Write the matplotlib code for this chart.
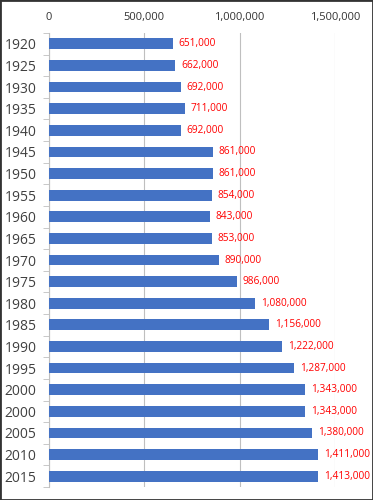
import matplotlib
matplotlib.use("Agg")
import matplotlib.pyplot as plt
from matplotlib.ticker import FuncFormatter
import numpy as np

years = ["1920", "1925", "1930", "1935", "1940", "1945", "1950", "1955", "1960", "1965",
         "1970", "1975", "1980", "1985", "1990", "1995", "2000", "2000", "2005", "2010", "2015"]
values = [651000, 662000, 692000, 711000, 692000, 861000, 861000, 854000, 843000, 853000,
          890000, 986000, 1080000, 1156000, 1222000, 1287000, 1343000, 1343000, 1380000, 1411000, 1413000]
xticks = [0, 500000, 1000000, 1500000]

plt.rcParams['font.family'] = ['Open Sans', 'DejaVu Sans']

fig = plt.figure(figsize=(3.73, 5.0), dpi=100)
ax = fig.add_axes([49/373, 1-487/500, (335-49)/373, (487-33)/500])

y = np.arange(len(years))
ax.barh(y, values, height=0.5, color="#4472C4", zorder=3)
for yi, v in zip(y, values):
    ax.text(v + 30000, yi, f"{v:,}", color="#FF0000", fontsize=7.3, va="center", ha="left", zorder=4)

ax.set_xlim(0, 1500000)
ax.set_ylim(len(years) - 0.5, -0.5)
ax.set_xticks(xticks)
ax.xaxis.set_major_formatter(FuncFormatter(lambda v, p: f"{int(v):,}"))
ax.xaxis.tick_top()
ax.tick_params(axis='x', length=0, labelsize=8, pad=7, colors="#333333")
ax.set_yticks(y)
ax.set_yticklabels(years)
ax.tick_params(axis='y', which='major', length=0, labelsize=10, pad=9, colors="#404040")
ax.set_yticks(np.arange(-0.5, len(years), 1), minor=True)
ax.tick_params(axis='y', which='minor', length=4, color="#BFBFBF", direction='out')
ax.grid(axis='x', color="#BFBFBF", linewidth=0.8, zorder=0)
for s in ['top', 'right', 'bottom']:
    ax.spines[s].set_visible(False)
ax.spines['left'].set_color("#BFBFBF")
ax.spines['left'].set_linewidth(0.8)

fig.patches.append(plt.Rectangle((0, 0), 1, 1, transform=fig.transFigure, fill=False,
                                 edgecolor="#333333", linewidth=2))
fig.savefig("out.png", dpi=100)
